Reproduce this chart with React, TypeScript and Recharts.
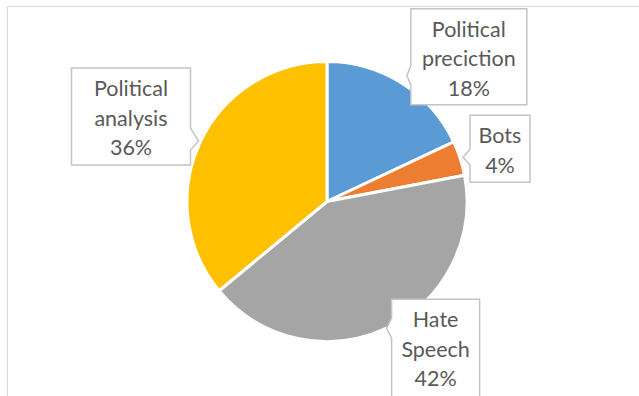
import React from "react";
import { PieChart, Pie, Cell } from "recharts";

const categories = ["Political preciction", "Bots", "Hate Speech", "Political analysis"];
const values = [18, 4, 42, 36];
const colors = ["#5B9BD5", "#ED7D31", "#A5A5A5", "#FFC000"];

const data = categories.map((name, i) => ({ name, value: values[i] }));

// callout layout per slice, relative to the tip point on the slice's mid-angle
const callouts = [
  { tipR: 149, side: "left", gap: 4, top: -67, w: 116, h: 96, n1: -10, n2: 9 },
  { tipR: 143, side: "left", gap: 7, top: -42, w: 60, h: 67, n1: -8, n2: 8 },
  { tipR: 140, side: "left", gap: 5, top: -29, w: 88, h: 110, n1: -10, n2: 10 },
  { tipR: 142, side: "right", gap: 8, top: -73, w: 119, h: 97, n1: -13, n2: 9 },
];

const RAD = Math.PI / 180;

const renderLabel = (props: any) => {
  const { cx, cy, midAngle, index, name, percent } = props;
  const c = callouts[index];
  const tx = cx + c.tipR * Math.cos(-midAngle * RAD);
  const ty = cy + c.tipR * Math.sin(-midAngle * RAD);
  const top = ty + c.top;
  const bottom = top + c.h;
  let left: number, right: number, d: string;
  if (c.side === "left") {
    left = tx + c.gap;
    right = left + c.w;
    d = `M${left},${top} L${right},${top} L${right},${bottom} L${left},${bottom} L${left},${ty + c.n2} L${tx},${ty} L${left},${ty + c.n1} Z`;
  } else {
    right = tx - c.gap;
    left = right - c.w;
    d = `M${left},${top} L${right},${top} L${right},${ty + c.n1} L${tx},${ty} L${right},${ty + c.n2} L${right},${bottom} L${left},${bottom} Z`;
  }
  const lines = [...String(name).split(" "), `${Math.round(percent * 100)}%`];
  const midX = (left + right) / 2;
  return (
    <g key={`lbl-${index}`}>
      <path d={d} fill="#ffffff" stroke="#c4c4c4" strokeWidth={1.5} />
      {lines.map((t, i) => (
        <text
          key={i}
          x={midX}
          y={top + 20 + i * 29.5}
          textAnchor="middle"
          dominantBaseline="central"
          fill="#595959"
          fontSize={21.5}
          fontFamily="Lato, 'Open Sans', sans-serif"
        >
          {t}
        </text>
      ))}
    </g>
  );
};

export default function App() {
  return (
    <div
      style={{
        position: "fixed",
        left: 0,
        top: 0,
        width: 639,
        height: 396,
        overflow: "hidden",
        background: "#ffffff",
      }}
    >
      <div
        style={{
          position: "absolute",
          left: 7,
          top: 6,
          width: 800,
          height: 600,
          border: "1.5px solid #d9d9d9",
        }}
      />
      <div style={{ position: "absolute", left: 0, top: 0 }}>
        <PieChart width={639} height={396} margin={{ top: 0, right: 0, bottom: 0, left: 0 }}>
          <Pie
            data={data}
            dataKey="value"
            nameKey="name"
            cx={327}
            cy={201.5}
            outerRadius={140}
            innerRadius={0}
            startAngle={90}
            endAngle={-270}
            stroke="#ffffff"
            strokeWidth={3}
            label={renderLabel}
            labelLine={false}
            isAnimationActive={false}
          >
            {data.map((d, i) => (
              <Cell key={d.name} fill={colors[i]} />
            ))}
          </Pie>
        </PieChart>
      </div>
    </div>
  );
}
